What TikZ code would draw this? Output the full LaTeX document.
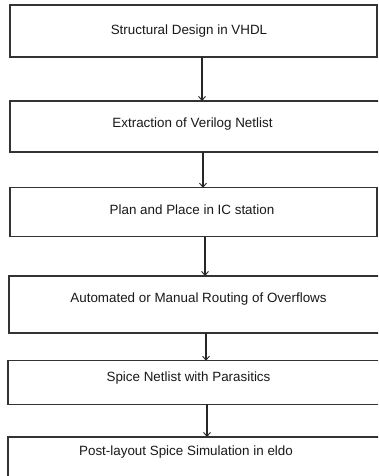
\documentclass[tikz,border=0pt]{standalone}
\usepackage{fontspec}
\setmainfont{Liberation Sans}
\usetikzlibrary{arrows.meta}
\begin{document}
\begin{tikzpicture}[x=1bp,y=-1bp,
  stepbox/.style={draw=black!80,line width=1.1bp,rectangle,inner sep=0pt,outer sep=0pt},
  steptext/.style={font=\fontsize{13.4bp}{15bp}\selectfont,text=black!90,inner sep=0pt,anchor=center},
  arr/.style={draw=black!85,line width=1.1bp,-{Straight Barb[length=4bp,width=7bp,line width=0.9bp]}}]
\useasboundingbox (0,0) rectangle (378,476);
\clip (0,0) rectangle (378,476);
\fill[white] (0,0) rectangle (378,476);
% boxes
\node[stepbox,minimum width=367bp,minimum height=52bp] (b1) at (193.5,31) {};
\node[stepbox,minimum width=380bp,minimum height=51bp] (b2) at (200,126.5) {};
\node[stepbox,minimum width=367bp,minimum height=49bp] (b3) at (193.5,212.3) {};
\node[stepbox,minimum width=380bp,minimum height=57bp] (b4) at (199,304.5) {};
\node[stepbox,minimum width=380bp,minimum height=43.5bp] (b5) at (198,382.5) {};
\node[stepbox,minimum width=380bp,minimum height=60bp] (b6) at (198,467) {};
% texts
\node[steptext] (t1) at (189,31) {Structural Design in VHDL};
\node[steptext] (t2) at (192.5,124) {Extraction of Verilog Netlist};
\node[steptext] (t3) at (192,210) {Plan and Place in IC station};
\node[steptext] (t4) at (198.5,299) {Automated or Manual Routing of Overflows};
\node[steptext] (t5) at (188.5,378) {Spice Netlist with Parasitics};
\node[steptext] (t6) at (186,452) {Post-layout Spice Simulation in eldo};
% connectors
\draw[arr] (b1.south -| 202,0) -- (b2.north -| 202,0);
\draw[arr] (b2.south -| 203,0) -- (b3.north -| 203,0);
\draw[arr] (b3.south -| 205,0) -- (b4.north -| 205,0);
\draw[arr] (b4.south -| 206,0) -- (b5.north -| 206,0);
\draw[arr] (b5.south -| 207,0) -- (b6.north -| 207,0);
\end{tikzpicture}
\end{document}
